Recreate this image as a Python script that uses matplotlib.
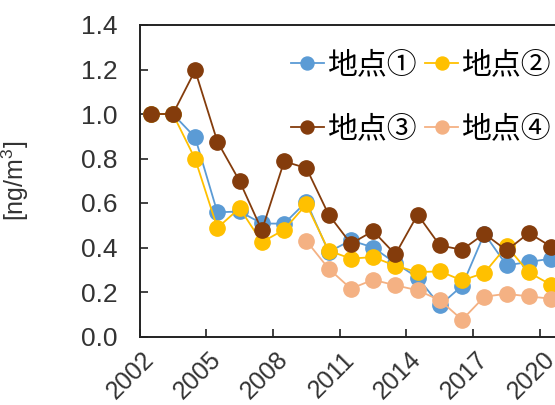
import numpy as np
import matplotlib.pyplot as plt
from matplotlib.transforms import ScaledTranslation

years = list(range(2002, 2021))
site1 = [1.00, 1.00, 0.895, 0.558, 0.562, 0.508, 0.507, 0.606, 0.38, 0.432, 0.40, 0.33, 0.265, 0.14, 0.228, 0.462, 0.32, 0.335, 0.35]
site2 = [1.00, 1.00, 0.798, 0.488, 0.577, 0.424, 0.48, 0.594, 0.386, 0.35, 0.357, 0.318, 0.289, 0.293, 0.252, 0.286, 0.406, 0.288, 0.232]
site3 = [1.00, 1.00, 1.196, 0.876, 0.698, 0.477, 0.787, 0.757, 0.548, 0.417, 0.474, 0.369, 0.548, 0.409, 0.390, 0.462, 0.387, 0.465, 0.404]
site4 = [np.nan] * 7 + [0.43, 0.305, 0.215, 0.255, 0.23, 0.208, 0.163, 0.075, 0.179, 0.192, 0.18, 0.17]
labels = ["地点①", "地点②", "地点③", "地点④"]
colors = ["#5B9BD5", "#FFC000", "#843C0C", "#F4B183"]

plt.rcParams["font.family"] = ["Liberation Sans", "Noto Sans CJK JP", "DejaVu Sans"]
plt.rcParams["mathtext.fontset"] = "custom"
plt.rcParams["mathtext.rm"] = "Liberation Sans"
plt.rcParams["mathtext.default"] = "regular"

fig = plt.figure(figsize=(5.55, 4.05), dpi=100)
ncat = 21
axw = ncat * 22.25 / 555
ax = fig.add_axes([139.5 / 555, 68.5 / 405, axw, 311.5 / 405])

x = np.arange(len(years))
lines = []
for vals, lab, c in zip([site1, site2, site3, site4], labels, colors):
    ln, = ax.plot(x, vals, color=c, lw=1.3, marker="o", ms=11, mec=c, label=lab)
    lines.append(ln)

ax.set_xlim(-0.5, ncat - 0.5)
ax.set_ylim(0, 1.4)
ax.set_yticks(np.arange(0, 1.41, 0.2))
ax.set_yticklabels([f"{v:.1f}" for v in np.arange(0, 1.41, 0.2)])

# ticks between categories, labels at category centres every 3 years
ax.set_xticks(np.arange(-0.5, ncat, 3))
ax.set_xticklabels([])
ax.set_xticks(x[::3], minor=True)
ax.set_xticklabels([str(y) for y in years[::3]], minor=True, rotation=45,
                   ha="right", va="center", rotation_mode="anchor")
shift = ScaledTranslation(8 / 100, -9 / 100, fig.dpi_scale_trans)
for t in ax.get_xticklabels(minor=True):
    t.set_transform(t.get_transform() + shift)
ax.tick_params(axis="x", which="minor", length=0, pad=14, labelsize=18, labelcolor="#333333")
ax.tick_params(axis="x", which="major", direction="in", length=6, width=1.2, color="#222222")
ax.tick_params(axis="y", direction="in", length=6, width=1.2, color="#222222",
               pad=16, labelsize=19, labelcolor="#333333")

for s in ax.spines.values():
    s.set_linewidth(1.4)
    s.set_color("#222222")

ax.set_ylabel("[ng/m$^3$]", fontsize=18, color="#333333")
ax.yaxis.set_label_coords(-109 / (axw * 555), 0.5)

# row-major order: ① ② on the first row, ③ ④ on the second
order = [0, 2, 1, 3]
ax.legend([lines[i] for i in order], [labels[i] for i in order],
          ncol=2, loc="upper left", bbox_to_anchor=(291 / 555, 1 - 49 / 405),
          bbox_transform=fig.transFigure, frameon=False,
          prop={"family": ["Noto Sans CJK JP"], "size": 21.5},
          handlelength=1.1, handletextpad=0.1, columnspacing=0.3,
          labelspacing=1.12, markerscale=0.85, borderpad=0, borderaxespad=0)

fig.savefig("out.png", dpi=100)
